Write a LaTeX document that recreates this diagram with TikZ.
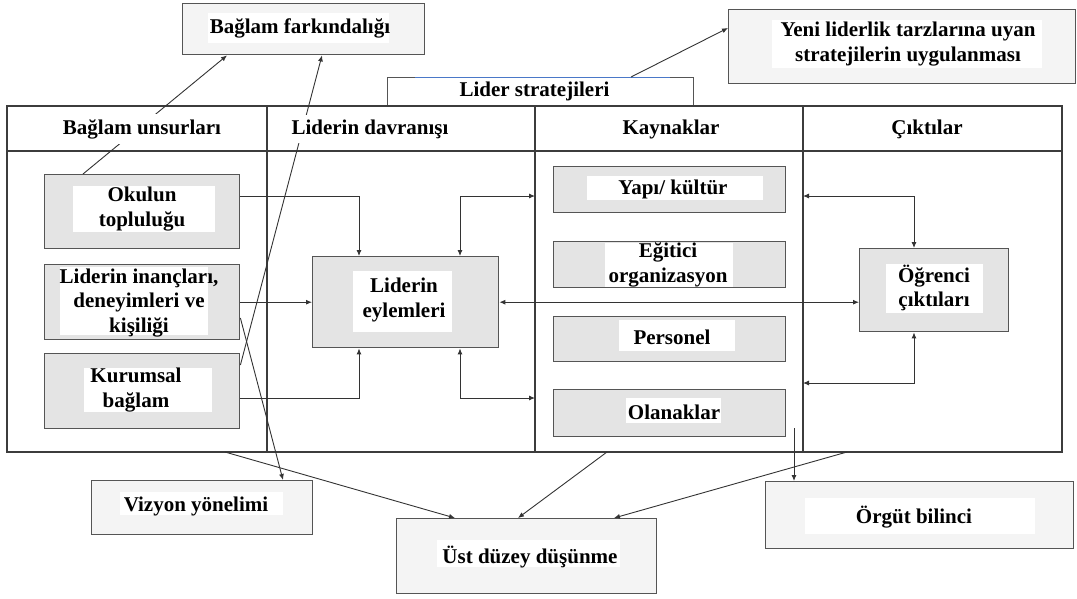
\documentclass[tikz,border=0pt]{standalone}
\usepackage{fontspec}
\setmainfont{Liberation Serif}
\usetikzlibrary{arrows.meta,calc}
\definecolor{frameline}{HTML}{3C3C3C}
\definecolor{boxline}{HTML}{555555}
\definecolor{gfill}{HTML}{E4E4E4}
\definecolor{lfill}{HTML}{F4F4F4}
\definecolor{conn}{HTML}{333333}
\definecolor{topblue}{HTML}{4A78C8}
\newcommand{\lblfont}{\bfseries\fontsize{21}{24.5}\selectfont}
\begin{document}
\begin{tikzpicture}[x=1pt,y=-1pt,
  frame/.style={draw=frameline,line width=1.1pt},
  gbox/.style={draw=boxline,line width=1.4pt,fill=gfill,anchor=north west,inner sep=0pt},
  lbox/.style={draw=boxline,line width=1.4pt,fill=lfill,anchor=north west,inner sep=0pt},
  wbg/.style={fill=white,draw=none,inner sep=0pt},
  lbl/.style={font=\lblfont,align=center,inner sep=0pt,text=black},
  hdr/.style={lbl,fill=white,inner xsep=3pt,inner ysep=5pt},
  arr/.style={draw=conn,line width=0.9pt,-{Latex[length=6pt,width=5pt]}},
  darr/.style={draw=conn,line width=0.9pt,{Latex[length=6pt,width=5pt]}-{Latex[length=6pt,width=5pt]}}]
\useasboundingbox (0,0) rectangle (1077,598);

% strategy tab sitting on the main frame
\node[draw=boxline,line width=1.1pt,fill=white,anchor=north west,inner sep=0pt,
      minimum width=306,minimum height=29] (stratB) at (387,77) {};
\draw[topblue,line width=0.8pt] ($(stratB.north west)+(28,0)$) -- ($(stratB.north west)+(283,0)$);

% main four-column frame
\draw[frame] (7,106) rectangle (1062,452);
\draw[frame] (7,151) -- (1062,151);
\coordinate (davL) at (267,151);
\coordinate (kayL) at (535,151);
\coordinate (cikL) at (803,151);
\draw[frame] (267,106) -- (267,452);
\draw[frame] (535,106) -- (535,452);
\draw[frame] (803,106) -- (803,452);

% outer result boxes
\node[lbox,minimum width=242,minimum height=51] (farkB) at (182,3) {};
\node[lbox,minimum width=347,minimum height=74] (yeniB) at (728,9) {};
\node[lbox,minimum width=221,minimum height=54] (vizB) at (91,480) {};
\node[lbox,minimum width=260,minimum height=75] (ustB) at (396,518) {};
\node[lbox,minimum width=308,minimum height=67] (orgB) at (765,481) {};

% inner grey boxes
\node[gbox,minimum width=195,minimum height=74] (okulB) at (44,174) {};
\node[gbox,minimum width=195,minimum height=75] (inancB) at (44,264) {};
\node[gbox,minimum width=195,minimum height=75] (kurumB) at (44,353) {};
\node[gbox,minimum width=186,minimum height=91] (eylemB) at (312,256) {};
\node[gbox,minimum width=232,minimum height=46] (yapiB) at (553,166) {};
\node[gbox,minimum width=232,minimum height=46] (egitB) at (553,241) {};
\node[gbox,minimum width=232,minimum height=45] (persB) at (553,316) {};
\node[gbox,minimum width=232,minimum height=47] (olanB) at (553,389) {};
\node[gbox,minimum width=149,minimum height=83] (ogrB) at (859,248) {};

% white text panels
\node[wbg,minimum width=181,minimum height=30] (farkW) at (298.5,28) {};
\node[wbg,minimum width=270,minimum height=48] (yeniW) at (907,44) {};
\node[wbg,minimum width=163,minimum height=23] (vizW) at (201.5,503.5) {};
\node[wbg,minimum width=183,minimum height=27] (ustW) at (528.5,553.5) {};
\node[wbg,minimum width=230,minimum height=36] (orgW) at (920,516) {};
\node[wbg,minimum width=142,minimum height=46] (okulW) at (144,209) {};
\node[wbg,minimum width=148,minimum height=68] (inancW) at (134,301) {};
\node[wbg,minimum width=128,minimum height=44] (kurumW) at (148,390) {};
\node[wbg,minimum width=99,minimum height=61] (eylemW) at (402.5,301.5) {};
\node[wbg,minimum width=176,minimum height=24] (yapiW) at (675,188) {};
\node[wbg,minimum width=128,minimum height=44] (egitW) at (669,265) {};
\node[wbg,minimum width=116,minimum height=31] (persW) at (677,335.5) {};
\node[wbg,minimum width=95,minimum height=25] (olanW) at (673.5,410.5) {};
\node[wbg,minimum width=97,minimum height=49] (ogrW) at (934.5,288.5) {};

% labels
\node[lbl] (fark) at (300,28) {Bağlam farkındalığı};
\node[lbl] (yeni) at (908,44) {Yeni liderlik tarzlarına uyan\\stratejilerin uygulanması};
\node[lbl] (viz) at (196,506) {Vizyon yönelimi};
\node[lbl] (ust) at (530,557) {Üst düzey düşünme};
\node[lbl] (org) at (914,517) {Örgüt bilinci};
\node[lbl] (okul) at (142,209) {Okulun\\topluluğu};
\node[lbl] (inanc) at (139,303) {Liderin inançları,\\deneyimleri ve\\kişiliği};
\node[lbl] (kurum) at (136,390) {Kurumsal\\bağlam};
\node[lbl] (eylem) at (404,300) {Liderin\\eylemleri};
\node[lbl] (yapi) at (673,189) {Yapı/ kültür};
\node[lbl] (egit) at (668,265) {Eğitici\\organizasyon};
\node[lbl] (pers) at (672,337) {Personel};
\node[lbl] (olan) at (674,412) {Olanaklar};
\node[lbl] (ogr) at (934,288) {Öğrenci\\çıktıları};
\node[lbl] (strat) at (534.5,91) {Lider stratejileri};

% flows into and out of the leader's actions
\coordinate (c1) at (359,196);
\coordinate (c2) at (359,398);
\coordinate (c3) at (460,196);
\coordinate (c4) at (460,398);
\draw[arr] (okulB.east |- c1) -| (eylemB.north -| c1);
\draw[arr] (inancB.east) -- (eylemB.west);
\draw[arr] (kurumB.east |- c2) -| (eylemB.south -| c2);
\draw[darr] (eylemB.north -| c3) |- (kayL |- c3);
\draw[darr] (eylemB.south -| c4) |- (kayL |- c4);
\draw[darr] (eylemB.east) -- (ogrB.west |- eylemB.east);

% loops between outputs and resources
\coordinate (c5) at (914,196);
\coordinate (c6) at (914,383);
\draw[darr] (cikL |- c5) -| (ogrB.north -| c5);
\draw[darr] (cikL |- c6) -| (ogrB.south -| c6);

% links to the outer boxes
\draw[arr] ($(okulB.north west)+(39,0)$) -- ($(farkB.south west)+(45,0)$);
\draw[arr] ($(kurumB.north east)+(0,12)$) -- ($(farkB.south west)+(140,0)$);
\draw[arr] ($(inancB.north east)+(0,54)$) -- ($(vizB.north west)+(192,0)$);
\draw[arr] ($(stratB.north west)+(244,0)$) -- ($(yeniB.north west)+(0,19)$);
\coordinate (b1) at (225,452);
\coordinate (b2) at (607,452);
\coordinate (b3) at (847,452);
\coordinate (b4) at (794,428);
\draw[arr] (b1) -- ($(ustB.north west)+(59,0)$);
\draw[arr] (b2) -- ($(ustB.north west)+(122,0)$);
\draw[arr] (b3) -- ($(ustB.north west)+(218,0)$);
\draw[arr] (b4) -- (orgB.north -| b4);

% column headings
\node[hdr] (hBag) at (142,129) {Bağlam unsurları};
\node[hdr] (hDav) at (370,129) {Liderin davranışı};
\node[hdr] (hKay) at (671,129) {Kaynaklar};
\node[hdr] (hCik) at (927,129) {Çıktılar};
\end{tikzpicture}
\end{document}
